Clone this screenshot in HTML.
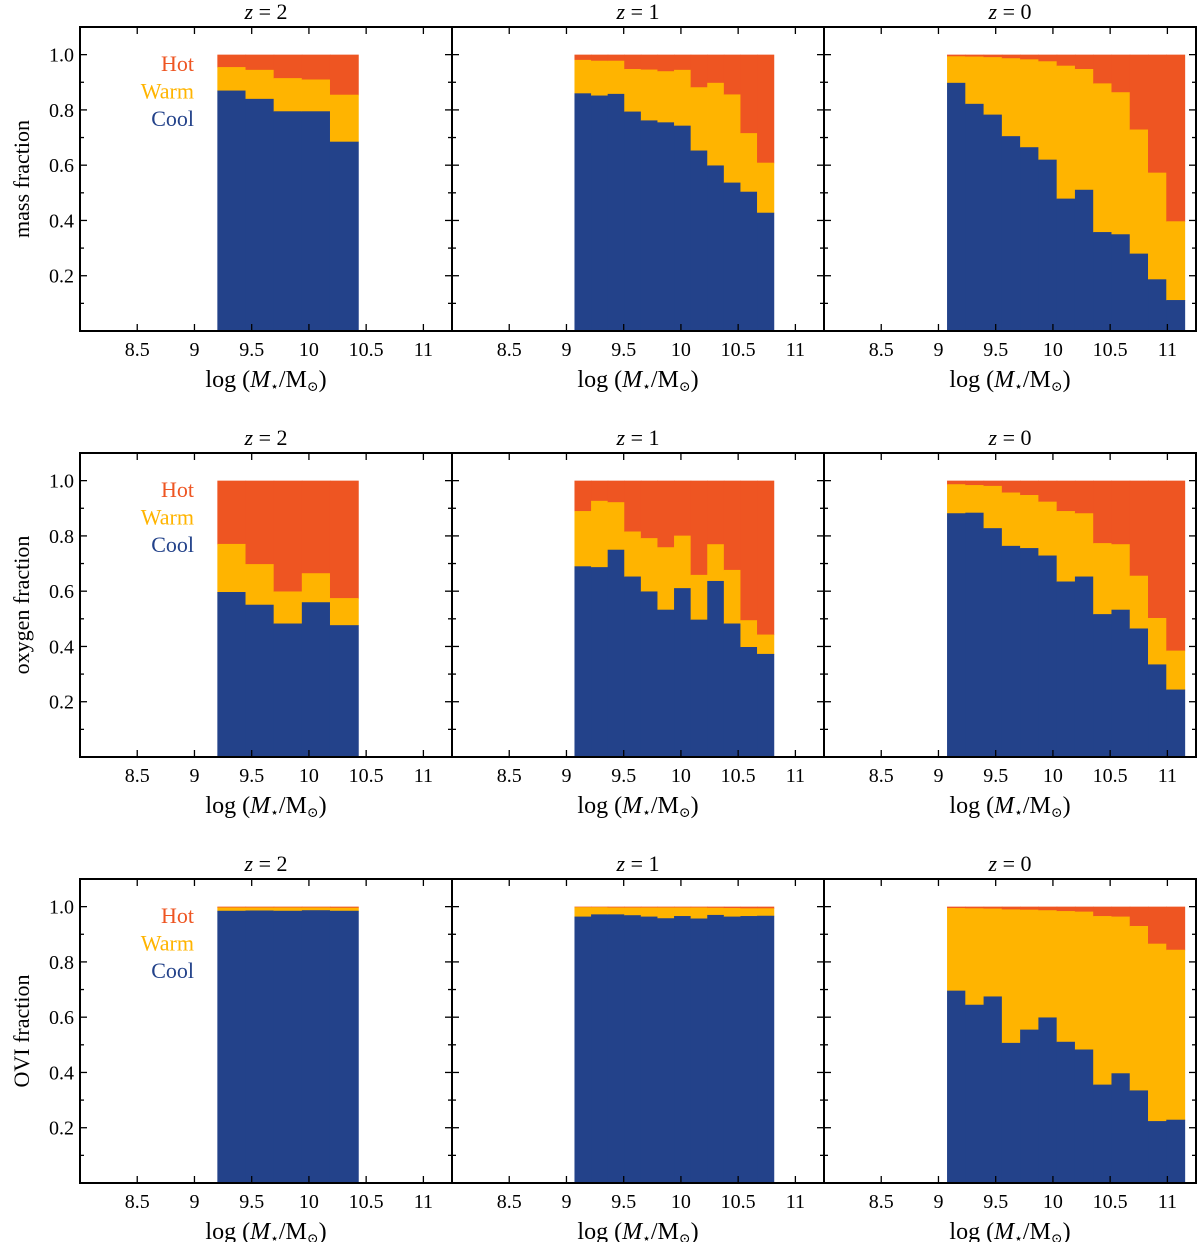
<!DOCTYPE html>
<html><head><meta charset="utf-8"><style>
html,body{margin:0;padding:0;background:#fff;}
svg{display:block;font-family:"Liberation Serif","DejaVu Serif",serif;}
</style></head><body>
<svg id="chart" width="1200" height="1242" viewBox="0 0 1200 1242" xmlns="http://www.w3.org/2000/svg"></svg>
<script>
// ---- Data ----
const rowLabels = ["mass fraction", "oxygen fraction", "OVI fraction"];
const colTitles = ["2", "1", "0"];
const binStart = [9.2, 9.07, 9.075];
const binEnd = [10.43, 10.81, 11.15];
const xTicks = [8.5, 9, 9.5, 10, 10.5, 11];
const xTickLabels = ["8.5", "9", "9.5", "10", "10.5", "11"];
const yTicks = [0.2, 0.4, 0.6, 0.8, 1.0];
const yTickLabels = ["0.2", "0.4", "0.6", "0.8", "1.0"];
const legendLabels = ["Hot", "Warm", "Cool"];

const massCoolZ2 = [0.87, 0.84, 0.795, 0.795, 0.685];
const massWarmZ2 = [0.955, 0.945, 0.915, 0.91, 0.855];
const massCoolZ1 = [0.860, 0.852, 0.858, 0.794, 0.762, 0.755, 0.743, 0.653, 0.599, 0.537, 0.504, 0.428];
const massWarmZ1 = [0.981, 0.978, 0.978, 0.948, 0.946, 0.940, 0.945, 0.882, 0.898, 0.856, 0.716, 0.609];
const massCoolZ0 = [0.898, 0.822, 0.783, 0.705, 0.665, 0.620, 0.479, 0.511, 0.358, 0.350, 0.280, 0.187, 0.112];
const massWarmZ0 = [0.994, 0.993, 0.991, 0.987, 0.983, 0.976, 0.960, 0.948, 0.896, 0.864, 0.729, 0.573, 0.397];

const oxyCoolZ2 = [0.597, 0.551, 0.483, 0.560, 0.477];
const oxyWarmZ2 = [0.771, 0.698, 0.599, 0.665, 0.575];
const oxyCoolZ1 = [0.690, 0.687, 0.750, 0.653, 0.599, 0.533, 0.611, 0.497, 0.637, 0.483, 0.398, 0.373];
const oxyWarmZ1 = [0.890, 0.927, 0.922, 0.816, 0.792, 0.759, 0.801, 0.659, 0.770, 0.677, 0.495, 0.443];
const oxyCoolZ0 = [0.882, 0.884, 0.828, 0.764, 0.756, 0.729, 0.635, 0.653, 0.517, 0.533, 0.465, 0.335, 0.244];
const oxyWarmZ0 = [0.987, 0.984, 0.981, 0.957, 0.948, 0.924, 0.890, 0.882, 0.774, 0.770, 0.656, 0.503, 0.385];

const oviCoolZ2 = [0.985, 0.986, 0.985, 0.987, 0.985];
const oviWarmZ2 = [0.997, 0.997, 0.997, 0.997, 0.996];
const oviCoolZ1 = [0.964, 0.972, 0.972, 0.969, 0.964, 0.958, 0.966, 0.957, 0.970, 0.964, 0.966, 0.967];
const oviWarmZ1 = [0.998, 0.998, 0.997, 0.997, 0.997, 0.997, 0.997, 0.997, 0.996, 0.995, 0.994, 0.994];
const oviCoolZ0 = [0.696, 0.645, 0.675, 0.507, 0.555, 0.599, 0.511, 0.483, 0.356, 0.397, 0.335, 0.224, 0.229];
const oviWarmZ0 = [0.995, 0.994, 0.993, 0.990, 0.989, 0.987, 0.984, 0.982, 0.966, 0.964, 0.930, 0.866, 0.844];

const coolData = [[massCoolZ2, massCoolZ1, massCoolZ0],[oxyCoolZ2, oxyCoolZ1, oxyCoolZ0],[oviCoolZ2, oviCoolZ1, oviCoolZ0]];
const warmData = [[massWarmZ2, massWarmZ1, massWarmZ0],[oxyWarmZ2, oxyWarmZ1, oxyWarmZ0],[oviWarmZ2, oviWarmZ1, oviWarmZ0]];

// ---- Layout ----
const NS = "http://www.w3.org/2000/svg";
const svg = document.getElementById("chart");
const COLORS = {hot:"#ee5522", warm:"#ffb400", cool:"#23428a"};
const panelLeft = [80, 452, 824], panelW = 372;
const rowTop = [27, 453, 879], panelH = 304;
const XMIN = 8.0, XMAX = 11.25, YMAX = 1.1;
function xScale(c, v){ return panelLeft[c] + (v - XMIN) / (XMAX - XMIN) * panelW; }
function yScale(r, v){ return rowTop[r] + panelH - v / YMAX * panelH; }
function mk(tag, attrs, parent){ const e = document.createElementNS(NS, tag); for (const k in attrs) e.setAttribute(k, attrs[k]); (parent||svg).appendChild(e); return e; }

for (let r = 0; r < 3; r++) {
  for (let c = 0; c < 3; c++) {
    const g = mk("g", {});
    
    
    const cool = coolData[r][c], warm = warmData[r][c];
    const n = cool.length, w = (binEnd[c] - binStart[c]) / n;
    for (let i = 0; i < n; i++) {
      const x0 = xScale(c, binStart[c] + i*w), x1 = xScale(c, binStart[c] + (i+1)*w);
      const yb = yScale(r, 0), yc = yScale(r, cool[i]), yw = yScale(r, warm[i]), yh = yScale(r, 1);
      const hot = mk("rect", {x:x0, y:yh, width:x1-x0+0.6, height:yw-yh+0.6, fill:COLORS.hot}, g);
      
      
      const wr = mk("rect", {x:x0, y:yw, width:x1-x0+0.6, height:yc-yw+0.6, fill:COLORS.warm}, g);
      
      
      const cr = mk("rect", {x:x0, y:yc, width:x1-x0+0.6, height:yb-yc, fill:COLORS.cool}, g);
      
      
    }
    const L = panelLeft[c], T = rowTop[r], B = T + panelH, R = L + panelW;
    for (let i = 0; i < xTicks.length; i++) {
      const x = xScale(c, xTicks[i]);
      mk("line", {x1:x, y1:B, x2:x, y2:B-7, stroke:"#000", "stroke-width":1.3}, g);
      mk("line", {x1:x, y1:T, x2:x, y2:T+7, stroke:"#000", "stroke-width":1.3}, g);
      const t = mk("text", {x:x, y:B+25, "text-anchor":"middle", "font-size":20, fill:"#000"}, g);
      t.textContent = xTickLabels[i];
      
      
    }
    for (let k = 1; k <= 10; k++) {
      const y = yScale(r, k/10), len = (k % 2 === 0) ? 7 : 4;
      mk("line", {x1:L, y1:y, x2:L+len, y2:y, stroke:"#000", "stroke-width":1.3}, g);
      mk("line", {x1:R, y1:y, x2:R-len, y2:y, stroke:"#000", "stroke-width":1.3}, g);
    }
    if (c === 0) {
      for (let i = 0; i < yTicks.length; i++) {
        const t = mk("text", {x:L-6, y:yScale(r, yTicks[i])+7, "text-anchor":"end", "font-size":20, fill:"#000"}, g);
        t.textContent = yTickLabels[i];
        
        
      }
      const yl = mk("text", {x:0, y:0, "text-anchor":"middle", "font-size":22, fill:"#000", transform:"translate(29," + (T+panelH/2) + ") rotate(-90)"}, g);
      yl.textContent = rowLabels[r];
      
      
      const lc = [COLORS.hot, COLORS.warm, COLORS.cool];
      for (let i = 0; i < 3; i++) {
        const lt = mk("text", {x:194, y:T+44+i*27.5, "text-anchor":"end", "font-size":22, fill:lc[i]}, g);
        lt.textContent = legendLabels[i];
        
        
      }
    }
    const fr = mk("rect", {x:L, y:T, width:panelW, height:panelH, fill:"none", stroke:"#000", "stroke-width":2}, g);
    
    
    const ti = mk("text", {x:L+panelW/2, y:T-8, "text-anchor":"middle", "font-size":22, fill:"#000"}, g);
    ti.innerHTML = '<tspan font-style="italic">z</tspan> = ' + colTitles[c];
    
    
    const xl = mk("text", {x:L+panelW/2, y:B+56, "text-anchor":"middle", "font-size":24, fill:"#000"}, g);
    xl.innerHTML = 'log (<tspan font-style="italic">M</tspan><tspan font-size="14" dy="4">⋆</tspan><tspan dy="-4">/M</tspan><tspan font-size="14" dy="4">⊙</tspan><tspan dy="-4">)</tspan>';
    
    
  }
}
</script>
</body></html>
